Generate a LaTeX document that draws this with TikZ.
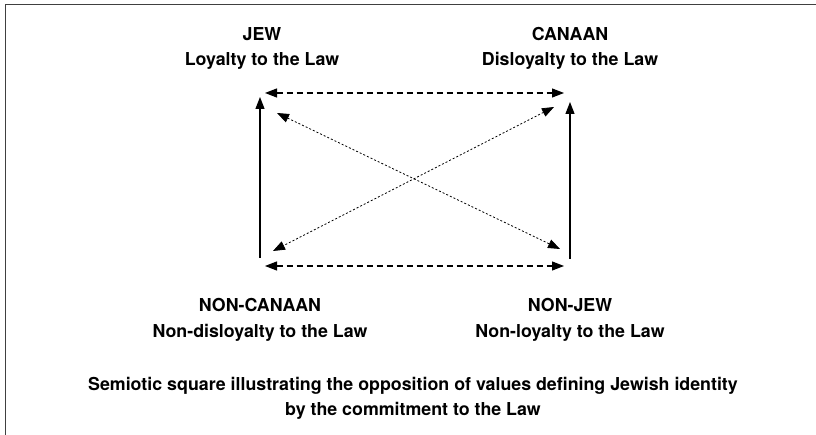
\documentclass[tikz,border=0pt]{standalone}
\usepackage{fontspec}
\setmainfont{TeX Gyre Heros}
\usetikzlibrary{arrows.meta}
\begin{document}
\begin{tikzpicture}[x=1pt,y=1pt,
  lbl/.style={anchor=base,inner sep=0pt,font=\fontsize{17.8}{21}\selectfont\bfseries},
  solidarrow/.style={line width=1.2pt,-{Triangle[length=12pt,width=9pt]}},
  dasharrow/.style={line width=1.1pt,dash pattern=on 6pt off 4pt,{Triangle[length=12pt,width=9pt]}-{Triangle[length=12pt,width=9pt]}},
  dotarrow/.style={line width=0.8pt,dash pattern=on 2pt off 2pt,{Triangle[length=12pt,width=9pt]}-{Triangle[length=12pt,width=9pt]}}]
\useasboundingbox (0,0) rectangle (816,435);
\draw[line width=1.5pt,color=black!75] (5.5,0) -- (5.5,430.5) -- (816,430.5);
% labels
\node[lbl] (jew) at (262,394) {JEW};
\node[lbl] (jewd) at (262,369) {Loyalty to the Law};
\node[lbl] (can) at (570,394) {CANAAN};
\node[lbl] (cand) at (570,369) {Disloyalty to the Law};
\node[lbl] (ncan) at (260,123) {NON-CANAAN};
\node[lbl] (ncand) at (260,97) {Non-disloyalty to the Law};
\node[lbl] (njew) at (570,123) {NON-JEW};
\node[lbl] (njewd) at (570,97) {Non-loyalty to the Law};
\node[lbl] (cap1) at (413,44) {Semiotic square illustrating the opposition of values defining Jewish identity};
\node[lbl] (cap2) at (413,19) {by the commitment to the Law};
% endpoints
\coordinate (lvb) at (260,177);
\coordinate (lvt) at (260,338);
\coordinate (rvb) at (570,176);
\coordinate (rvt) at (570,333);
\coordinate (tl) at (265,342);
\coordinate (tr) at (564,342);
\coordinate (bl) at (265,169);
\coordinate (br) at (564,169);
\coordinate (d1a) at (277,322);
\coordinate (d1b) at (560,186);
\coordinate (d2a) at (554,328);
\coordinate (d2b) at (273,184);
\draw[solidarrow] (lvb) -- (lvt);
\draw[solidarrow] (rvb) -- (rvt);
\draw[dasharrow] (tl) -- (tr);
\draw[dasharrow] (bl) -- (br);
\draw[dotarrow] (d1a) -- (d1b);
\draw[dotarrow] (d2a) -- (d2b);
\end{tikzpicture}
\end{document}
